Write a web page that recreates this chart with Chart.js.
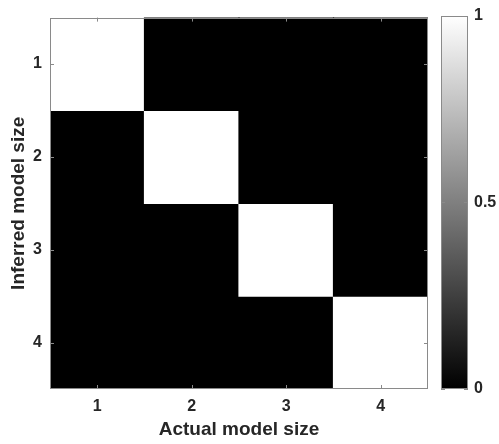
<!DOCTYPE html>
<html>
<head>
<meta charset="utf-8">
<script src="https://cdn.jsdelivr.net/npm/chart.js@4.4.1/dist/chart.umd.min.js"></script>
<style>
  html, body { margin: 0; padding: 0; background: #fff; }
  #wrap { position: relative; width: 499px; height: 444px; }
  canvas { position: absolute; top: 0; }
</style>
</head>
<body>
<div id="wrap">
  <canvas id="heat" width="440" height="444" style="left:0"></canvas>
  <canvas id="cbar" width="79" height="444" style="left:420px"></canvas>
</div>
<script>
const actualSizes = ['1', '2', '3', '4']
const inferredSizes = [1, 2, 3, 4]
// rows = inferred size, columns = actual size
const confusion = [
	[1, 0, 0, 0],
	[0, 1, 0, 0],
	[0, 0, 1, 0],
	[0, 0, 0, 1]
]
const colorbarTicks = [0, 0.5, 1]

const FONT = "'Liberation Sans', Arial, Helvetica, sans-serif"
const AXIS_GRAY = '#8a8a8a'
const TEXT = '#262626'

const gray = v => {
	let c = Math.round(v * 255)
	return `rgb(${c},${c},${c})`
}

// MATLAB-style box with inward ticks
const boxTicks = {
	id: 'boxTicks',
	afterDraw(chart, args, opts) {
		const { ctx, chartArea: a } = chart
		ctx.save()
		ctx.strokeStyle = AXIS_GRAY
		ctx.lineWidth = 1
		const len = 4
		if (opts.x) {
			chart.scales.x.ticks.forEach((t, i) => {
				let px = Math.round(chart.scales.x.getPixelForTick(i)) + 0.5
				ctx.beginPath()
				ctx.moveTo(px, a.bottom); ctx.lineTo(px, a.bottom - len)
				ctx.moveTo(px, a.top); ctx.lineTo(px, a.top + len)
				ctx.stroke()
			})
		}
		chart.scales.y.ticks.forEach(t => {
			let py = Math.round(chart.scales.y.getPixelForValue(t.value)) + 0.5
			ctx.beginPath()
			ctx.moveTo(a.left, py); ctx.lineTo(a.left + len, py)
			ctx.moveTo(a.right, py); ctx.lineTo(a.right - len, py)
			ctx.stroke()
		})
		ctx.strokeRect(Math.round(a.left) + 0.5, Math.round(a.top) + 0.5,
			Math.round(a.right - a.left) - 1, Math.round(a.bottom - a.top) - 1)
		ctx.restore()
	}
}

const heatDatasets = inferredSizes.map((row, r) => ({
	label: 'Inferred ' + row,
	data: actualSizes.map(() => [row - 0.5, row + 0.5]),
	backgroundColor: confusion[r].map(gray),
	borderWidth: 0,
	inflateAmount: 0.6,
	barPercentage: 1,
	categoryPercentage: 1,
	grouped: false
}))

new Chart(document.getElementById('heat'), {
	type: 'bar',
	data: { labels: actualSizes, datasets: heatDatasets },
	plugins: [boxTicks],
	options: {
		responsive: false,
		animation: false,
		layout: { padding: { left: 0, top: 12, right: 12, bottom: 0 } },
		plugins: {
			legend: { display: false },
			tooltip: { enabled: false },
			boxTicks: { x: true }
		},
		scales: {
			x: {
				type: 'category',
				offset: true,
				grid: { display: false, drawTicks: false },
				border: { display: false },
				ticks: { color: TEXT, padding: 8, font: { family: FONT, size: 16, weight: 'bold' } },
				title: {
					display: true, text: 'Actual model size', color: TEXT,
					font: { family: FONT, size: 19, weight: 'bold' }, padding: { top: 0, bottom: 3 }
				},
				afterFit(s) { s.height = 55 }
			},
			y: {
				type: 'linear',
				reverse: true,
				min: 0.5,
				max: 4.5,
				afterBuildTicks(s) { s.ticks = inferredSizes.map(v => ({ value: v })) },
				grid: { display: false, drawTicks: false },
				border: { display: false },
				ticks: { color: TEXT, padding: 8, font: { family: FONT, size: 16, weight: 'bold' } },
				title: {
					display: true, text: 'Inferred model size', color: TEXT,
					font: { family: FONT, size: 19, weight: 'bold' }, padding: { top: 7, bottom: 0 }
				},
				afterFit(s) { s.width = 50 }
			}
		}
	}
})

// colour bar: one floating bar 0..1 filled with the gray colormap
new Chart(document.getElementById('cbar'), {
	type: 'bar',
	data: {
		labels: [''],
		datasets: [{
			data: [[0, 1]],
			borderWidth: 0,
			barPercentage: 1,
			categoryPercentage: 1,
			backgroundColor(ctx) {
				const a = ctx.chart.chartArea
				if (!a) return '#888'
				const g = ctx.chart.ctx.createLinearGradient(0, a.bottom, 0, a.top)
				g.addColorStop(0, gray(0))
				g.addColorStop(1, gray(1))
				return g
			}
		}]
	},
	plugins: [boxTicks],
	options: {
		responsive: false,
		animation: false,
		layout: { padding: { left: 21, top: 12, right: 0, bottom: 55 } },
		plugins: { legend: { display: false }, tooltip: { enabled: false }, boxTicks: { x: false } },
		scales: {
			x: { display: false },
			y: {
				position: 'right',
				min: 0,
				max: 1,
				afterBuildTicks(s) { s.ticks = colorbarTicks.map(v => ({ value: v })) },
				grid: { display: false, drawTicks: false },
				border: { display: false },
				ticks: {
					color: TEXT, padding: 6, font: { family: FONT, size: 16, weight: 'bold' },
					callback: v => String(v)
				},
				afterFit(s) { s.width = 31 }
			}
		}
	}
})
</script>
</body>
</html>
